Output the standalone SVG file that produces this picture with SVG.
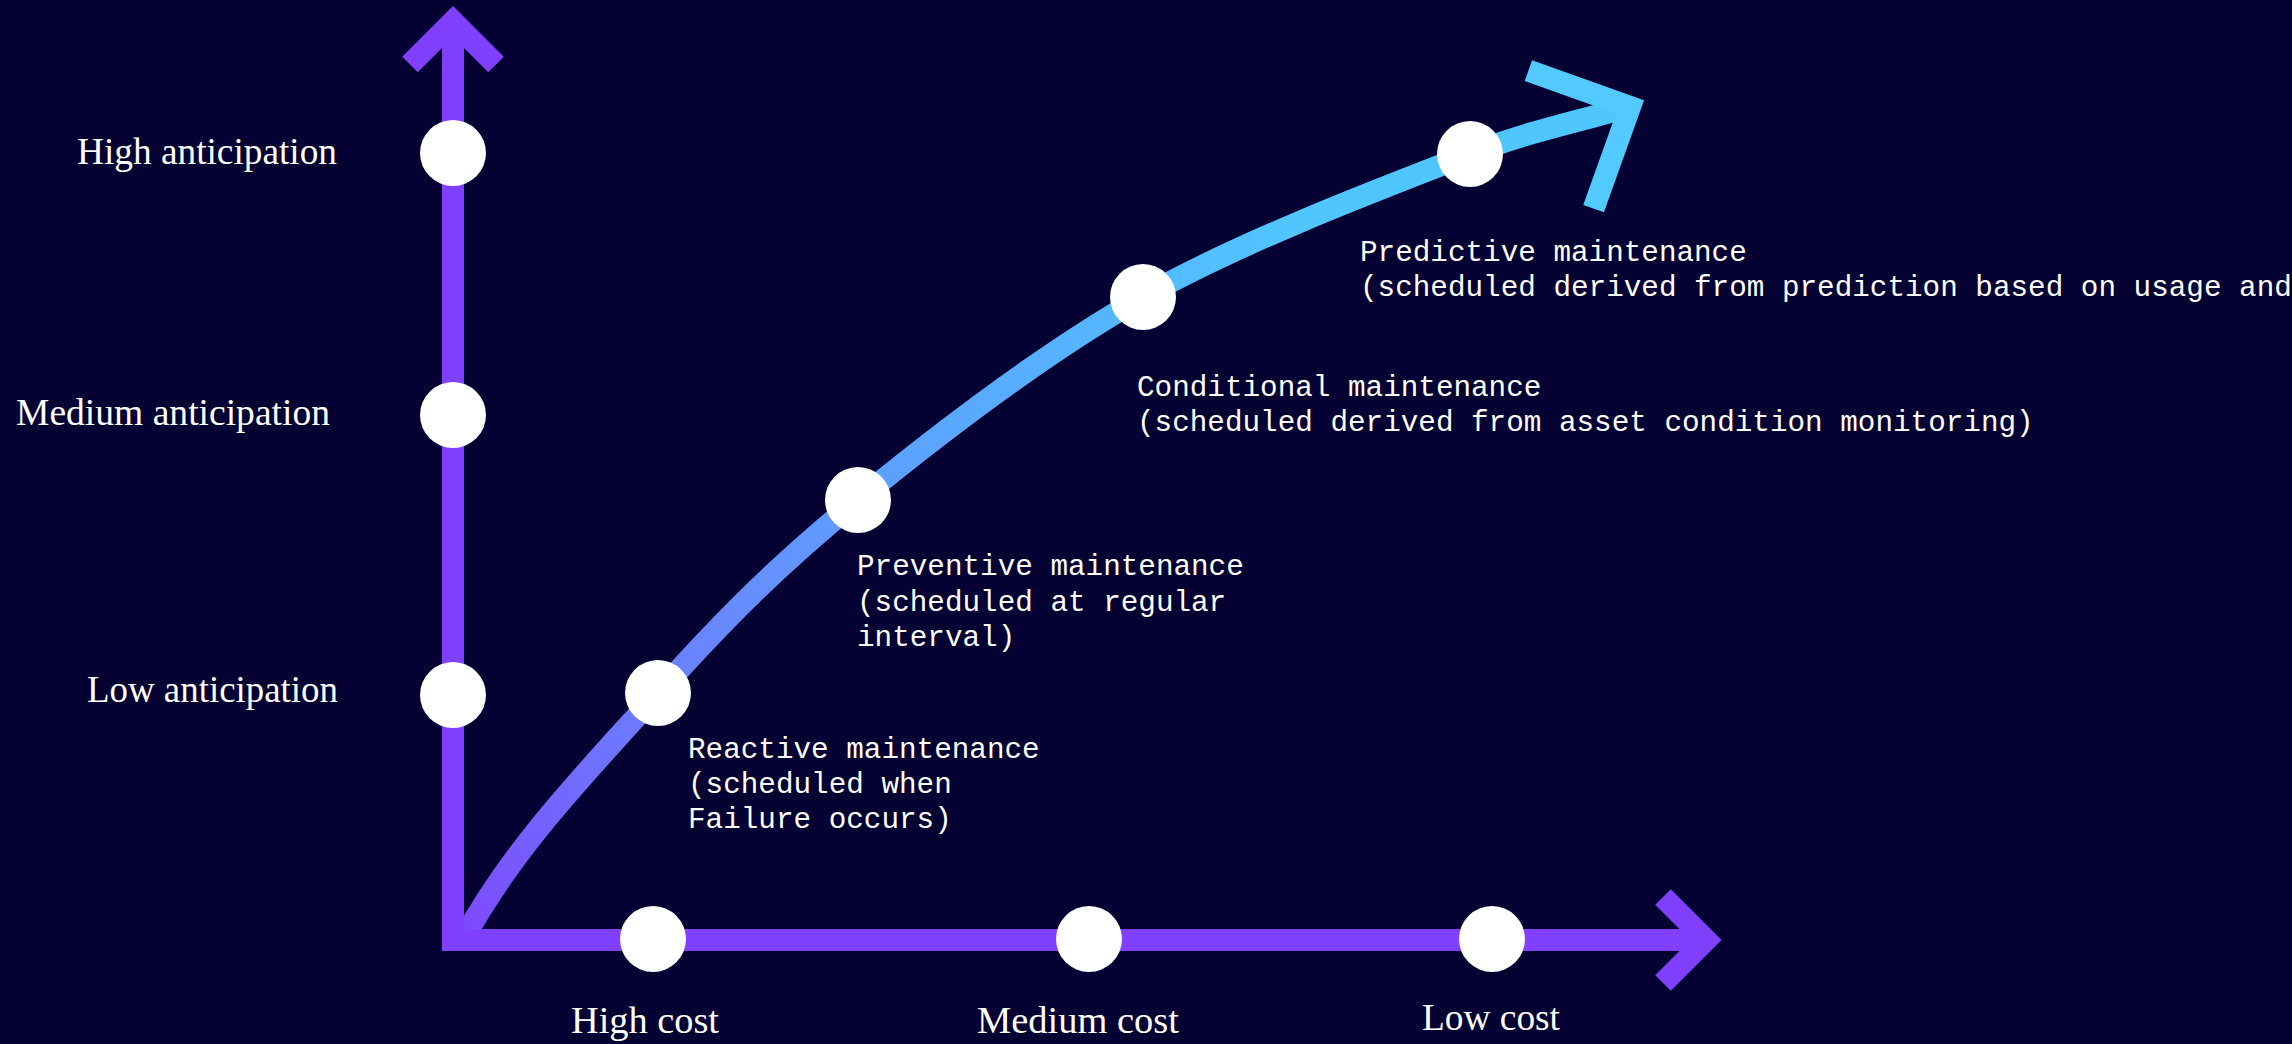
<svg xmlns="http://www.w3.org/2000/svg" width="2292" height="1044" viewBox="0 0 2292 1044">
  <defs>
    <linearGradient id="curveGrad" gradientUnits="userSpaceOnUse" x1="463" y1="940" x2="1300" y2="230">
      <stop offset="0" stop-color="#7D48FF"/>
      <stop offset="0.21" stop-color="#6E74FF"/>
      <stop offset="0.42" stop-color="#6590FF"/>
      <stop offset="0.59" stop-color="#5BA3FF"/>
      <stop offset="0.85" stop-color="#54B9FF"/>
      <stop offset="1" stop-color="#50C6FF"/>
    </linearGradient>
    <style>
      .axis { fill: none; stroke: #7F40FF; stroke-width: 22; stroke-linejoin: miter; stroke-linecap: butt; }
      .curve { fill: none; stroke: url(#curveGrad); stroke-width: 22; stroke-linecap: butt; }
      .tip { fill: none; stroke: #52C9FF; stroke-width: 22; stroke-linejoin: miter; stroke-miterlimit: 10; stroke-linecap: butt; }
      .dot { fill: #FFFFFF; }
      .serif { font-family: "Liberation Serif", "DejaVu Serif", serif; font-size: 38px; fill: #FFFFFF; }
      .mono { font-family: "Liberation Mono", "DejaVu Sans Mono", monospace; font-size: 29.3px; fill: #FFFFFF; }
    </style>
  </defs>
  <rect x="0" y="0" width="2292" height="1044" fill="#050233"/>

  <g id="connectors">
    <path class="curve" d="M463,940 C513,846.7 592.2,766.3 658,693 C723.8,619.7 777.2,566 858,500 C938.8,434 1041,354.7 1143,297 C1245,239.3 1388.8,185.7 1470,154 C1523.6,133.1 1580,120.5 1626,108"/>
    <polyline class="tip" points="1528.4,70.6 1630,107 1593.6,208.6"/>
    <path class="axis" d="M453,30 L453,940 L1700,940"/>
    <polyline class="axis" points="410,64.5 453,21.5 496,64.5"/>
    <polyline class="axis" points="1663,897 1706,940 1663,983"/>
  </g>

  <g id="y-high">
    <circle class="dot" cx="453" cy="153" r="33"/>
    <text class="serif" x="77" y="164" textLength="260" lengthAdjust="spacingAndGlyphs">High anticipation</text>
  </g>
  <g id="y-medium">
    <circle class="dot" cx="453" cy="415" r="33"/>
    <text class="serif" x="16" y="425" textLength="314" lengthAdjust="spacingAndGlyphs">Medium anticipation</text>
  </g>
  <g id="y-low">
    <circle class="dot" cx="453" cy="695" r="33"/>
    <text class="serif" x="87" y="702" textLength="251" lengthAdjust="spacingAndGlyphs">Low anticipation</text>
  </g>

  <g id="x-high">
    <circle class="dot" cx="653" cy="939" r="33"/>
    <text class="serif" x="571" y="1033" textLength="148" lengthAdjust="spacingAndGlyphs">High cost</text>
  </g>
  <g id="x-medium">
    <circle class="dot" cx="1089" cy="939" r="33"/>
    <text class="serif" x="977" y="1033" textLength="202" lengthAdjust="spacingAndGlyphs">Medium cost</text>
  </g>
  <g id="x-low">
    <circle class="dot" cx="1492" cy="939" r="33"/>
    <text class="serif" x="1422" y="1030" textLength="138" lengthAdjust="spacingAndGlyphs">Low cost</text>
  </g>

  <g id="reactive">
    <circle class="dot" cx="658" cy="693" r="33"/>
    <text class="mono" x="688" y="758">Reactive maintenance</text>
    <text class="mono" x="688" y="793">(scheduled when</text>
    <text class="mono" x="688" y="828">Failure occurs)</text>
  </g>
  <g id="preventive">
    <circle class="dot" cx="858" cy="500" r="33"/>
    <text class="mono" x="857" y="575">Preventive maintenance</text>
    <text class="mono" x="857" y="610.5">(scheduled at regular</text>
    <text class="mono" x="857" y="646">interval)</text>
  </g>
  <g id="conditional">
    <circle class="dot" cx="1143" cy="297" r="33"/>
    <text class="mono" x="1137" y="396">Conditional maintenance</text>
    <text class="mono" x="1137" y="431">(scheduled derived from asset condition monitoring)</text>
  </g>
  <g id="predictive">
    <circle class="dot" cx="1470" cy="154" r="33"/>
    <text class="mono" x="1360" y="261">Predictive maintenance</text>
    <text class="mono" x="1360" y="296">(scheduled derived from prediction based on usage and</text>
  </g>
</svg>
